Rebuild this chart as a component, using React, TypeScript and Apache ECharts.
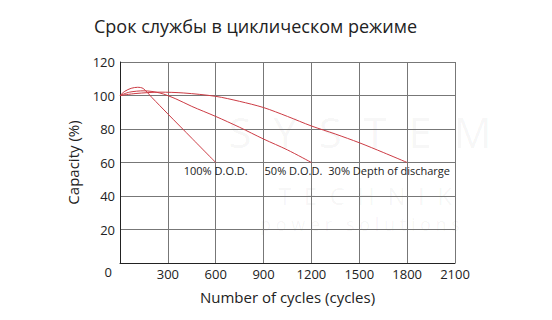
import React, { useEffect, useRef } from "react";
import * as echarts from "echarts";

const title = "Срок службы в циклическом режиме";
const xName = "Number of cycles (cycles)";
const yName = "Capacity (%)";

const dod100: [number, number][] = [
  [0, 100], [30, 102.5], [70, 104.3], [110, 104.9], [145, 104.2],
  [200, 98.8], [300, 89], [450, 74.5], [600, 60],
];
const dod50: [number, number][] = [
  [0, 100], [60, 102], [150, 102.8], [250, 101.5], [350, 98], [450, 93.5],
  [600, 87.5], [750, 81], [900, 74], [1050, 67.5], [1200, 60],
];
const dod30: [number, number][] = [
  [0, 100], [100, 101.2], [250, 102], [400, 101.5], [600, 99.5], [750, 96.5],
  [900, 92.8], [1050, 87.5], [1200, 81.8], [1350, 77], [1500, 71.8],
  [1650, 66], [1800, 60],
];
const seriesNames = ["100% D.O.D.", "50% D.O.D.", "30% Depth of discharge"];
const watermark = ["S  Y  S  T  E  M", "T  E  C  H  N  I  K", "p o w e r   s o l u t i o n s"];

const FONT = "'Open Sans', sans-serif";
const RED = "#cc3b44";
const WM = "rgba(0,0,0,0.045)";

export default function App() {
  const ref = useRef<HTMLDivElement>(null);
  useEffect(() => {
    document.body.style.margin = "0";
    if (!ref.current) return;
    const chart = echarts.init(ref.current, null, { renderer: "svg" });
    const mkSeries = (name: string, data: [number, number][], lab: any) => ({
      name,
      type: "line",
      smooth: 0.3,
      symbol: "none",
      lineStyle: { color: RED, width: 1 },
      data,
      markPoint: {
        symbol: "circle",
        symbolSize: 0,
        silent: true,
        data: [
          {
            coord: data[data.length - 1],
            label: {
              show: true,
              formatter: name,
              color: "#222",
              fontFamily: FONT,
              fontSize: 11,
              position: "bottom",
              distance: 2,
              ...lab,
            },
          },
        ],
      },
    });
    chart.setOption({
      animation: false,
      textStyle: { fontFamily: FONT },
      title: {
        text: title,
        left: 89,
        top: 12,
        textStyle: { fontFamily: FONT, fontSize: 18, fontWeight: "normal", color: "#222" },
      },
      graphic: [
        {
          type: "text",
          x: 360,
          y: 131,
          z: -1,
          silent: true,
          style: { text: watermark[0], fontSize: 42, fontFamily: FONT, fill: WM, align: "center", verticalAlign: "middle" },
        },
        {
          type: "text",
          x: 365,
          y: 195,
          z: -1,
          silent: true,
          style: { text: watermark[1], fontSize: 24, fontFamily: FONT, fill: WM, align: "center", verticalAlign: "middle" },
        },
        {
          type: "text",
          x: 360,
          y: 224,
          z: -1,
          silent: true,
          style: { text: watermark[2], fontSize: 18, fontFamily: FONT, fill: WM, align: "center", verticalAlign: "middle" },
        },
      ],
      grid: { left: 120, right: 97, top: 62, bottom: 57 },
      xAxis: {
        type: "value",
        min: 0,
        max: 2100,
        interval: 300,
        name: xName,
        nameLocation: "middle",
        nameGap: 26,
        nameTextStyle: { fontFamily: FONT, fontSize: 15, color: "#222" },
        axisLine: { show: true, lineStyle: { color: "#222", width: 1 } },
        axisTick: { show: false },
        axisLabel: {
          margin: 4,
          fontFamily: FONT,
          fontSize: 13,
          color: "#222",
          formatter: (v: number) => (v === 0 ? "" : String(v)),
        },
        splitLine: { show: true, lineStyle: { color: "#777", width: 1 } },
      },
      yAxis: {
        type: "value",
        min: 0,
        max: 120,
        interval: 20,
        name: yName,
        nameLocation: "middle",
        nameGap: 40,
        nameTextStyle: { fontFamily: FONT, fontSize: 15, color: "#222" },
        axisLine: { show: true, lineStyle: { color: "#222", width: 1 } },
        axisTick: { show: false },
        axisLabel: {
          margin: 5,
          fontFamily: FONT,
          fontSize: 13,
          color: "#222",
          formatter: (v: number) => (v === 0 ? "{z|0}" : String(v)),
          rich: { z: { fontFamily: FONT, fontSize: 13, color: "#222", padding: [18, 3, 0, 0] } },
        },
        splitLine: { show: true, lineStyle: { color: "#777", width: 1 } },
      },
      series: [
        mkSeries(seriesNames[0], dod100, {}),
        mkSeries(seriesNames[1], dod50, { offset: [-18, 0] }),
        mkSeries(seriesNames[2], dod30, { offset: [-18, 0] }),
      ],
    });
    return () => chart.dispose();
  }, []);
  return <div ref={ref} style={{ width: 552, height: 320 }} />;
}
